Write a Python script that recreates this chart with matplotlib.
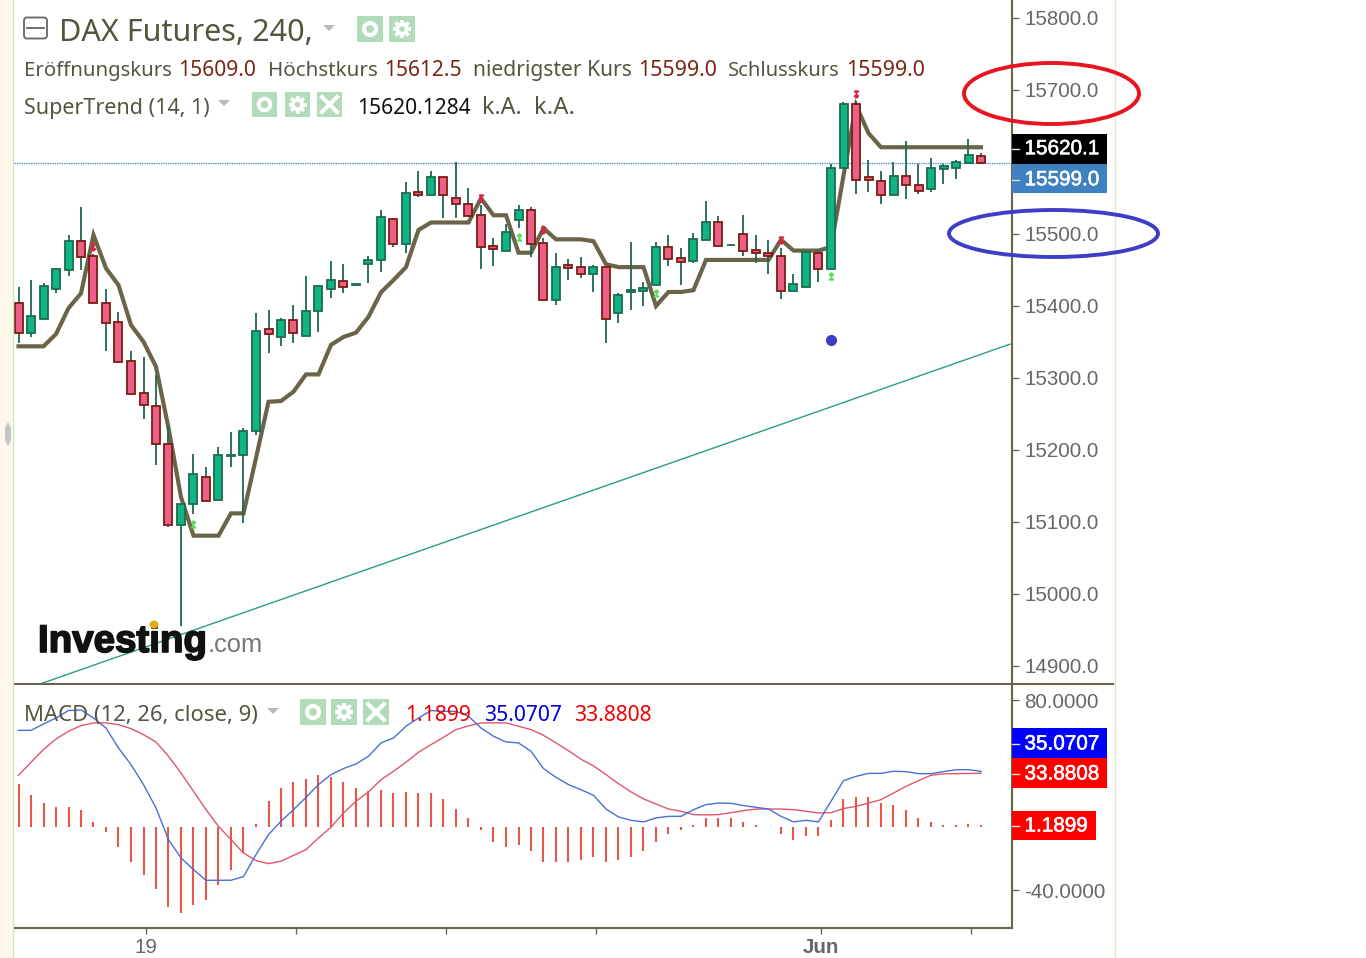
import math
import matplotlib
matplotlib.use("Agg")
import matplotlib.pyplot as plt
import matplotlib.patheffects as pe
from matplotlib.patches import Ellipse, Rectangle, FancyBboxPatch, Polygon, Circle
from matplotlib.transforms import ScaledTranslation

# ---------- data ----------
opens = [15404,15362,15382,15424,15450,15490,15469.5,15404,15378,15324,15279,15261,15209,15096,15125,15162,15130,15192,15193,15226,
         15368,15356.5,15380.5,15359,15393,15424,15435,15429,15458,15463.5,15521,15486.5,15558,15554,15579,15550,15542,15526,15483,15476,
         15520,15534,15487.5,15409,15456.5,15454,15445,15454,15390,15419,15421,15429,15482,15467,15463,15492,15516,15484.5,15500.5,15477.5,
         15474,15469,15421,15427,15474,15452,15591,15680.5,15579,15573,15554,15581,15568,15562,15590,15591,15599,15609]
highs = [15426,15436,15432,15451,15498,15537,15472,15423,15392,15337,15329,15304,15232,15125,15194,15176,15204,15225,15230,15390,
         15394,15384,15402,15442,15428,15462.5,15459,15431,15470,15533,15521,15572,15587,15587,15579,15599.5,15563.5,15540,15495,15514,
         15540,15537,15494,15473,15465,15467.5,15456.5,15454,15417.5,15488.5,15433,15488.5,15498,15480,15501,15545.5,15525,15485.5,15527,15498.5,
         15491,15480,15444,15475,15477,15597,15683,15685,15603,15587,15599.5,15629,15597,15605,15597,15603,15631.5,15612.5]
lows = [15348,15356.5,15382,15418.5,15442,15450,15404,15338,15322,15278,15243.5,15179,15093,14955,15111,15129,15130,15176,15098,15221,
        15335,15345,15348,15359,15364,15411,15418.5,15428,15431.5,15447,15481.5,15473,15551,15554,15522.5,15522.5,15525.5,15452,15455,15476,
        15509,15467.5,15409,15402,15436.5,15439,15420,15348,15377,15395,15400,15429,15455,15429,15460,15492,15484,15484,15470,15460,
        15444,15410,15421,15427,15434,15452,15591,15556,15559,15541,15554,15548,15556,15559,15569,15577,15599,15599]
closes = [15362,15386,15428,15451,15490,15468.5,15404,15377,15322,15278,15262.5,15208,15096,15125,15167,15129,15193,15193,15227,15365,
          15361.5,15381,15362,15393.5,15428,15436,15427,15430,15464,15523.5,15486.5,15557,15554,15579,15554,15541,15525.5,15481.5,15479,15503,
          15534,15486.5,15409,15454,15453,15445,15454,15382,15415,15422,15425,15482,15465,15461,15492.5,15516,15484,15485,15476,15473,
          15469.5,15421,15430.5,15475,15452,15591,15680.5,15575,15575,15554,15581,15567.5,15560,15592,15594.5,15599.5,15610,15599]
supertrend = [15344,15344,15344,15361,15397,15417.6,15498.6,15452.4,15429,15373.6,15350.4,15315.7,15230.6,15134.7,15081,15081,15081,15112,15112,15189,
              15267,15268,15281,15305,15305,15346,15357,15363,15385,15419,15436,15454,15505.6,15516,15516,15516,15516,15549.6,15526,15526,
              15474,15474,15508,15492.6,15492.6,15492.6,15490,15458,15454,15454,15454,15400,15419.5,15419.5,15422,15464,15464,15464,15464,15464,
              15464,15492,15477,15477,15477,15482,15581,15679,15640,15620.5,15620.5,15620.5,15620.5,15620.5,15620.5,15620.5,15620.5,15620.5]
macd_line = [60.9,60.9,64.9,68.7,73.4,73.8,68.7,62.4,49.8,39.3,26.7,12,-8,-19.5,-26.9,-33.6,-33.6,-33.6,-31.3,-17.4,
             -4.8,3.6,10.9,18.7,26.7,33,36.8,39.7,44.6,53,56.1,63.5,68.7,73.4,72.9,72.9,69.8,62.4,57.2,53.6,
             53,47.7,36.8,31.3,26.7,23.5,20,11.3,6.3,4.2,3.2,5.7,6.7,6.7,10.9,14.1,15.1,14.9,13.5,12.4,
             11.3,6.7,3.2,4.2,3.2,16.2,29.2,31.9,33.8,33.8,35.1,34.9,33.6,33.6,34.9,36.1,36.1,35.07]
signal_line = [32.6,40.8,48.8,55.5,60.3,63.9,65.6,65.6,64.5,62,58.2,53.6,44.6,34,22.5,10.9,0.4,-8,-16.4,-21.2,
               -23.1,-21.6,-17.9,-14.3,-6.9,-0.2,8.8,16.2,22.1,29.8,35.1,40.8,47.1,51.9,56.5,61.4,63.7,65.6,65.6,65.6,
               63.5,61.4,57.8,53,48.1,42.7,38.5,33,27.3,22.1,17.7,14.5,11.3,9.9,7.8,7.6,7.8,9,10.3,11.3,
               11.3,11.3,10.9,9.9,8.8,9,11.6,13,15.1,17.2,21.4,25.6,29.2,32.6,33.5,33.6,33.7,33.88]
histogram = [27.3,20.2,15.3,12.8,12.8,10.7,3.4,-3.4,-12.8,-22.3,-30.5,-39.1,-50.7,-54.2,-49.4,-46,-36.6,-27.3,-16.4,2.1,
             16.6,24.8,28.4,30.5,33,31.7,28.4,24.8,22.5,23.5,21.2,22.3,21.2,21.2,17.7,11.6,5.9,-2.1,-9.2,-12.8,
             -11.6,-15.3,-22.3,-22.3,-22.3,-21,-18.9,-22.3,-21,-18.9,-15.3,-9.5,-4.6,-2.1,1,5.9,5.9,5.9,3.4,1.2,
             0.1,-4.6,-8.2,-5.9,-5.9,4.6,17.7,18.9,18.9,15.3,14.1,10.5,5.9,3.4,1.2,1.2,2.1,1.1899]
bars = list(range(len(opens)))
trend_x = [1.72, 79.32]
trend_y = [14875, 15347]
last_price = 15599.0
up_x = [14, 40, 51, 65]
up_y = [15097, 15496, 15418, 15441]
down_x = [6, 37, 42, 61, 67]
down_y = [15482, 15549.6, 15505.6, 15492, 15694]
dot_x = [65]
dot_y = [15353]
price_ticks = [15800, 15700, 15500, 15400, 15300, 15200, 15100, 15000, 14900]
macd_ticks = [80, -40]
time_ticks = [10.2, 22.2, 34.2, 46.2, 64.2, 76.2]
time_labels = ["19", "", "", "", "Jun", ""]

# ---------- colours ----------
GREEN, GREEN_EDGE = "#0fb583", "#1d6b52"
RED, RED_EDGE = "#ec5f86", "#7b1d12"
WICK = "#1f6650"
OLIVE = "#6a654a"
GREY = "#666666"
TXT = "#55553f"
DKRED = "#7a2412"
BTN = "#b2dcb9"
HIST = "#e4574a"

W, H = 1366, 958
fig = plt.figure(figsize=(W / 100, H / 100), dpi=100, facecolor="white")

def make_axes(top, bottom):
    return fig.add_axes([14 / W, (H - bottom) / H, 998 / W, (bottom - top) / H])

xlim = (-0.36, 79.48)
ax = make_axes(0, 684)
ax2 = make_axes(685, 928)
for a in (ax, ax2):
    a.set_xlim(*xlim)
    a.yaxis.tick_right()
    a.spines["left"].set_visible(False)
    a.spines["top"].set_visible(False)
    a.spines["right"].set_color(OLIVE)
    a.spines["right"].set_linewidth(1.5)
    a.spines["bottom"].set_color(OLIVE)
    a.spines["bottom"].set_linewidth(1.5)
    a.tick_params(axis="y", length=5, width=1, color=GREY, pad=3.8, labelsize=14.8, labelcolor=GREY)

# ---------- price pane ----------
ax.set_ylim(14875, 15825)
ax.set_xticks([])
ax.set_yticks(price_ticks)
ax.set_yticklabels([f"{v:.1f}" for v in price_ticks], family="Liberation Sans")

ax.plot(trend_x, trend_y, color="#2a9d8a", lw=1, zorder=1)
ax.axhline(last_price, color="#4f8fd0", lw=1, ls=(0, (1, 0.7)), zorder=1)
ax.plot(bars, supertrend, color=OLIVE, lw=3.0, solid_joinstyle="miter", zorder=2)
ax.vlines(bars, lows, highs, color=WICK, lw=1.3, zorder=3)
for i in bars:
    up = closes[i] >= opens[i]
    lo, hi = min(opens[i], closes[i]), max(opens[i], closes[i])
    ax.bar(i, hi - lo, bottom=lo, width=0.64, color=GREEN if up else RED,
           edgecolor=GREEN_EDGE if up else RED_EDGE, linewidth=1.3, zorder=4)
ax.plot(up_x, up_y, ls="", marker="$\u21a5$", ms=5, color="#55e055", zorder=5)
ax.plot(down_x, down_y, ls="", marker="$\u21a7$", ms=5, color="#e02040", zorder=5)
ax.plot(dot_x, dot_y, ls="", marker="o", ms=7, color="#3d3dc8", zorder=5)

# ---------- MACD pane ----------
ax2.set_ylim(-63.7, 89.5)
ax2.set_yticks(macd_ticks)
ax2.set_yticklabels([f"{v:.4f}" for v in macd_ticks], family="Liberation Sans")
ax2.vlines(bars, 0, histogram, color=HIST, lw=1.5, zorder=1)
ax2.plot(bars, signal_line, color="#e0566c", lw=1, zorder=2)
ax2.plot(bars, macd_line, color="#4a6fd4", lw=1, zorder=3)
ax2.set_xticks(time_ticks)
ax2.set_xticklabels(time_labels, family="Liberation Sans", fontsize=14.8, color=GREY)
ax2.tick_params(axis="x", length=4.5, width=1, color=OLIVE, pad=2.5)
for lab in ax2.get_xticklabels():
    if lab.get_text() == "Jun":
        lab.set_fontweight("bold")

lift = ScaledTranslation(0, 0.5 / 100, fig.dpi_scale_trans)
for lab in ax.yaxis.get_majorticklabels():
    lab.set_transform(lab.get_transform() + lift)

# ---------- overlay in pixel space ----------
ov = fig.add_axes([0, 0, 1, 1], facecolor="none")
ov.set_xlim(0, W)
ov.set_ylim(H, 0)
ov.axis("off")
ov.set_zorder(10)

renderer = fig.canvas.get_renderer()

def fit(x0, x1, base, s, color=TXT, family="Noto Sans", fs=15, **kw):
    t = ov.text(x0, base, s, color=color, family=family, fontsize=fs, va="baseline", ha="left", **kw)
    w = t.get_window_extent(renderer).width
    t.set_fontsize(fs * (x1 - x0) / w)
    return t

# page furniture
ov.add_patch(Rectangle((0, 0), 12, H, color="#fdf9ea", lw=0, zorder=0))
ov.plot([13, 13], [0, H], color="#d4e2c4", lw=1, zorder=0)
ov.plot([1115, 1115], [0, H], color="#e3e8c8", lw=1, zorder=0)
ov.add_patch(Polygon([[8, 422], [11, 428], [11, 440], [8, 446], [5, 440], [5, 428]], color="#c4c4c4", lw=0))
ov.plot([1012, 1113], [684, 684], color=OLIVE, lw=1.5)

# title row
ov.add_patch(FancyBboxPatch((24, 17.5), 23, 21, boxstyle="round,pad=0,rounding_size=3", fc="white", ec="#666666", lw=1.3))
ov.plot([27, 44], [28, 28], color="#666666", lw=1.3)
fit(59, 313, 41, "DAX Futures, 240,")
fit(24, 172, 76, "Eröffnungskurs")
fit(178, 256, 76, "15609.0", DKRED)
fit(268, 378, 76, "Höchstkurs")
fit(384, 462, 76, "15612.5", DKRED)
fit(473, 632, 76, "niedrigster Kurs")
fit(638, 717, 76, "15599.0", DKRED)
fit(728, 840, 76, "Schlusskurs")
fit(846, 925, 76, "15599.0", DKRED)
fit(24, 210, 114, "SuperTrend (14, 1)")
fit(357, 471, 114, "15620.1284", "#111111")
fit(482, 522, 114, "k.A.")
fit(534, 575, 114, "k.A.")
fit(24, 258, 721, "MACD (12, 26, close, 9)")
fit(405, 471, 721, "1.1899", "#ee0000")
fit(484, 562, 721, "35.0707", "#0000dd")
fit(574, 652, 721, "33.8808", "#ee0000")

def triangle(cx, cy):
    ov.add_patch(Polygon([[cx - 6, cy - 3], [cx + 6, cy - 3], [cx, cy + 3]], color="#b9b9b9", lw=0))

for cx, cy in [(329, 28), (224, 103), (273, 711)]:
    triangle(cx, cy)

def button(x, y, size, kind):
    ov.add_patch(Rectangle((x, y), size, size, color=BTN, lw=0))
    cx, cy = x + size / 2, y + size / 2
    if kind == "eye":
        ov.add_patch(Circle((cx, cy), size * 0.31, color="white", lw=0))
        ov.add_patch(Circle((cx, cy), size * 0.15, color=BTN, lw=0))
    elif kind == "gear":
        for k in range(8):
            ang = k * math.pi / 4
            ov.plot([cx + size * 0.2 * math.cos(ang), cx + size * 0.36 * math.cos(ang)],
                    [cy + size * 0.2 * math.sin(ang), cy + size * 0.36 * math.sin(ang)],
                    color="white", lw=2.6, solid_capstyle="butt")
        ov.add_patch(Circle((cx, cy), size * 0.26, color="white", lw=0))
        ov.add_patch(Circle((cx, cy), size * 0.11, color=BTN, lw=0))
    else:
        d = size * 0.3
        ov.plot([cx - d, cx + d], [cy - d, cy + d], color="white", lw=3)
        ov.plot([cx - d, cx + d], [cy + d, cy - d], color="white", lw=3)

for x, y, s, k in [(357, 16, 26, "eye"), (389, 16, 26, "gear"),
                   (252, 92, 25, "eye"), (285, 92, 25, "gear"), (317, 92, 25, "x"),
                   (300, 699, 26, "eye"), (331, 699, 26, "gear"), (363, 699, 26, "x")]:
    button(x, y, s, k)

# value tags on the axes
def tag(x0, x1, y0, y1, color, s, dy=0):
    ov.add_patch(Rectangle((x0, y0), x1 - x0, y1 - y0, color=color, lw=0))
    ov.plot([x0, x0 + 7], [(y0 + y1) / 2 + dy] * 2, color="#dddddd", lw=1)
    ov.text(1024.5, (y0 + y1) / 2 + dy, s, color="white", family="Liberation Sans", fontsize=14.9,
            va="center", ha="left", path_effects=[pe.withStroke(linewidth=0.4, foreground="white")])

tag(1012, 1107, 134, 163.5, "#000000", "15620.1")
tag(1012, 1107, 163.5, 193, "#3f80c0", "15599.0", 1.5)
tag(1012, 1107, 728, 758, "#0000ff", "35.0707", 1)
tag(1012, 1107, 758, 788, "#ff0000", "33.8808", 1)
tag(1012, 1096, 811, 840, "#ff0000", "1.1899", 0.5)

# annotation ellipses
ov.add_patch(Ellipse((1051.5, 93.5), 175, 61, fill=False, ec="#e8141e", lw=2.8))
ov.add_patch(Ellipse((1053.5, 233.5), 209, 47, fill=False, ec="#3d3dc8", lw=2.8))

# logo
fit(38, 207, 652, "Investing", "#111111", "Liberation Sans", 28, fontweight="bold",
    path_effects=[pe.withStroke(linewidth=1.2, foreground="#111111")])
fit(208, 263, 652, ".com", "#77777a", "Liberation Sans", 18)
ov.add_patch(Ellipse((154, 624.5), 9, 8, color="#e2ac10", lw=0, zorder=6))

fig.savefig("out.png", dpi=100, facecolor="white")
